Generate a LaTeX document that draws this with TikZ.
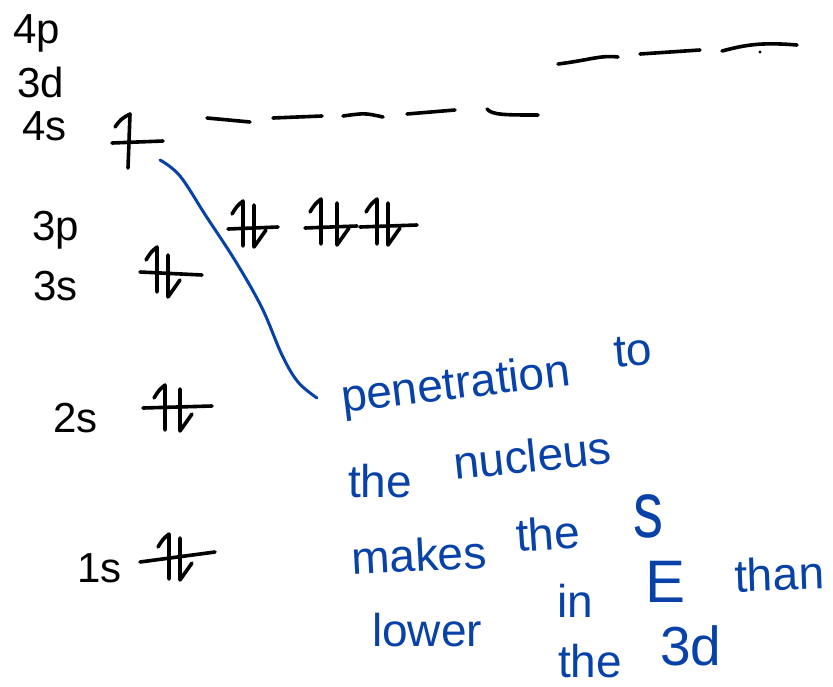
\documentclass[tikz,border=0pt]{standalone}
\usepackage{fontspec}
\setmainfont{Liberation Sans}
\definecolor{inkblue}{RGB}{8,66,168}
\begin{document}
\begin{tikzpicture}[x=1pt,y=-1pt,
  ink/.style={line width=3.6pt,line cap=round,line join=round,black},
  blueink/.style={line width=3pt,line cap=round,line join=round,inkblue},
  lbl/.style={font=\fontsize{42}{42}\selectfont,inner sep=0pt,anchor=base west,text=black},
  note/.style={font=\fontsize{46}{46}\selectfont,inner sep=0pt,anchor=base west,text=inkblue},
  uph/.pic={\draw[ink] (-11,-12) .. controls (-6,-20) .. (0,-25) -- (0,20);},
  dnh/.pic={\draw[ink] (0,-21) -- (0,21) -- (12,4);}
]
\fill[white] (0,0) rectangle (833,686);
\path[use as bounding box] (0,0) rectangle (833,686);

% level labels
\node[lbl] (l4p) at (13,43) {4p};
\node[lbl] (l3d) at (17,97) {3d};
\node[lbl] (l4s) at (22,140) {4s};
\node[lbl] (l3p) at (32,240) {3p};
\node[lbl] (l3s) at (33,300) {3s};
\node[lbl] (l2s) at (53,432) {2s};
\node[lbl] (l1s) at (77,582) {1s};

% 4s (one electron)
\draw[ink] (112,143) -- (163,141);
\draw[ink] (115,127) .. controls (121,119) .. (130,114) -- (128,168);

% 3d dashes
\draw[ink] (207,118) -- (250,122);
\draw[ink] (273,118) -- (322,116);
\draw[ink] (343,116) .. controls (365,113) .. (383,117);
\draw[ink] (407,114) -- (455,110);
\draw[ink] (487,109) .. controls (492,115) and (505,115) .. (538,115);

% 4p dashes
\draw[ink] (558,64) .. controls (590,60) and (600,55) .. (618,57);
\draw[ink] (640,54) -- (700,50);
\draw[ink] (722,51) .. controls (745,45) and (760,42) .. (797,45);
\fill[black] (760,52) circle (1.6pt);

% 3s
\draw[ink] (140,272) -- (202,275);
\pic at (157,272) {uph};
\pic at (168,276) {dnh};

% 3p
\draw[ink] (228,229) -- (278,227);
\pic at (243,226) {uph};
\pic at (254,226) {dnh};
\draw[ink] (305,228) -- (357,226);
\pic at (321,224) {uph};
\pic at (337,224) {dnh};
\draw[ink] (360,227) -- (417,225);
\pic at (377,224) {uph};
\pic at (388,224) {dnh};

% 2s
\draw[ink] (143,408) -- (212,406);
\pic at (165,410) {uph};
\pic at (180,410) {dnh};

% 1s
\draw[ink] (140,562) -- (215,552);
\pic at (169,559) {uph};
\pic at (180,559) {dnh};

% annotation
\node[note,rotate=7] (w1) at (343,413) {penetration};
\node[note,rotate=5] (w2) at (615,368) {to};
\node[note] (w3) at (348,497) {the};
\node[note,rotate=6] (w4) at (455,480) {nucleus};
\node[note,rotate=3] (w5) at (352,575) {makes};
\node[note,rotate=4] (w6) at (517,552) {the};
\node[note,font=\fontsize{80}{80}\selectfont,xscale=0.75] (w7) at (633,537) {s};
\node[note] (w8) at (372,646) {lower};
\node[note] (w9) at (557,617) {in};
\node[note,font=\fontsize{60}{60}\selectfont] (w10) at (645,602) {E};
\node[note,rotate=2] (w11) at (735,592) {than};
\node[note] (w12) at (558,677) {the};
\node[note,font=\fontsize{55}{55}\selectfont] (w13) at (660,665) {3d};

% connector curve
\coordinate (cs) at (160,160);
\coordinate (ce) at (317,398);
\draw[blueink] plot[smooth,tension=0.6] coordinates {(cs) (180,176) (206,216) (236,262) (262,308) (282,355) (298,382) (ce)};
\end{tikzpicture}
\end{document}
